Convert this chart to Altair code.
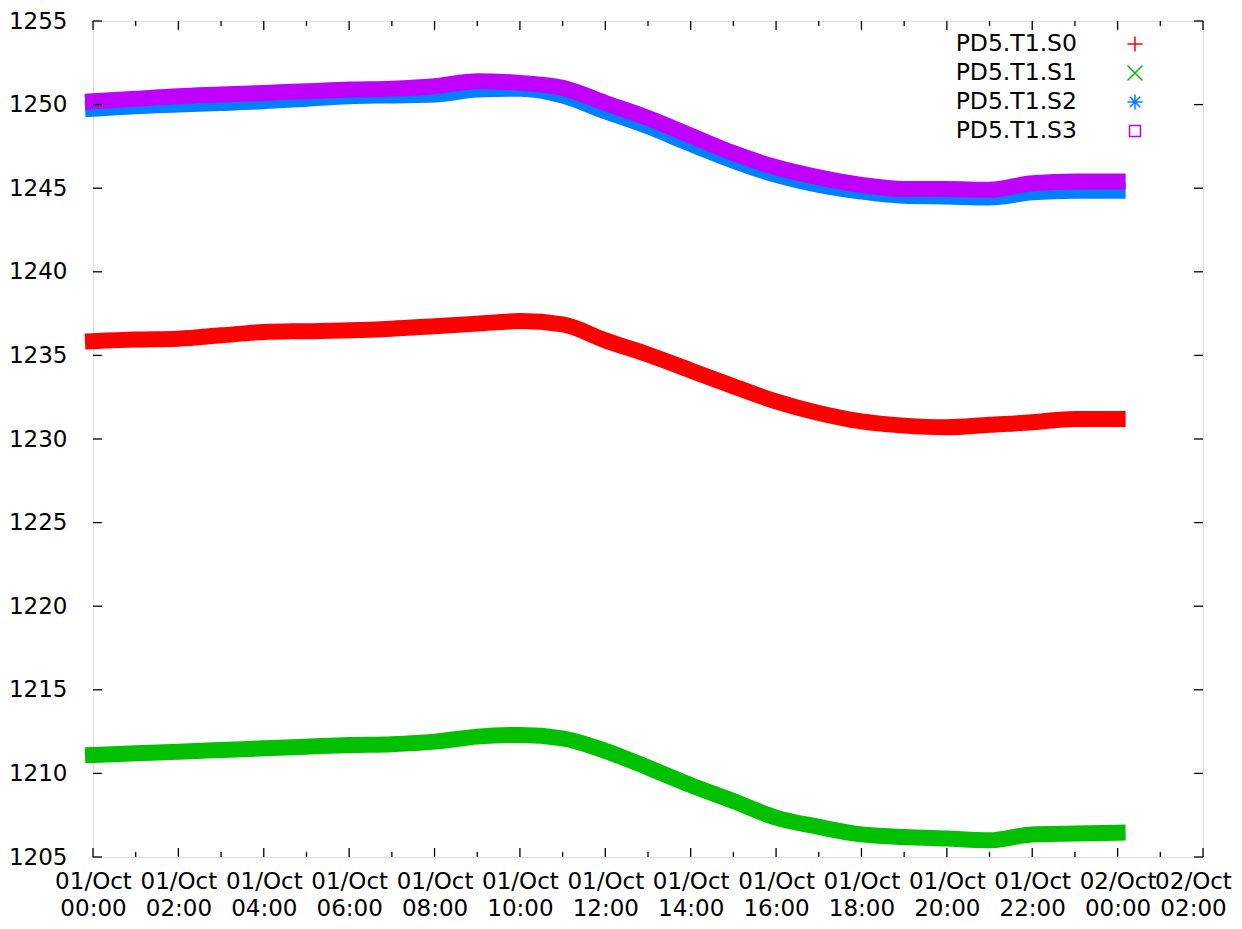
import altair as alt
import pandas as pd

# ---- data (hourly samples) ----
hours = list(range(0, 25))
s0 = [1235.85, 1235.95, 1236.0, 1236.2, 1236.4, 1236.45, 1236.5, 1236.6, 1236.75, 1236.9,
      1237.05, 1236.85, 1235.9, 1235.05, 1234.1, 1233.15, 1232.25, 1231.55, 1231.05, 1230.8,
      1230.7, 1230.85, 1231.0, 1231.2, 1231.2]
s1 = [1211.1, 1211.2, 1211.3, 1211.4, 1211.5, 1211.6, 1211.7, 1211.75, 1211.9, 1212.2,
      1212.3, 1212.1, 1211.35, 1210.35, 1209.3, 1208.35, 1207.35, 1206.8, 1206.35, 1206.2,
      1206.1, 1206.0, 1206.35, 1206.4, 1206.45]
s2 = [1249.75, 1249.9, 1250.0, 1250.1, 1250.2, 1250.35, 1250.5, 1250.55, 1250.6, 1250.9,
      1250.95, 1250.55, 1249.6, 1248.7, 1247.65, 1246.65, 1245.8, 1245.2, 1244.8, 1244.55,
      1244.5, 1244.45, 1244.75, 1244.85, 1244.85]
s3 = [1250.2, 1250.35, 1250.5, 1250.6, 1250.7, 1250.8, 1250.9, 1250.95, 1251.1, 1251.4,
      1251.3, 1251.0, 1250.1, 1249.2, 1248.15, 1247.1, 1246.25, 1245.65, 1245.2, 1244.95,
      1244.95, 1244.9, 1245.3, 1245.4, 1245.4]
series_names = ["PD5.T1.S0", "PD5.T1.S1", "PD5.T1.S2", "PD5.T1.S3"]
series_colors = ["#ff0000", "#00c000", "#0080ff", "#c000ff"]
series_shapes = [
    "M-1,0L1,0M0,-1L0,1",
    "M-1,-1L1,1M-1,1L1,-1",
    "M-1,0L1,0M0,-1L0,1M-0.7,-0.7L0.7,0.7M-0.7,0.7L0.7,-0.7",
    "M-0.73,-0.73L0.73,-0.73L0.73,0.73L-0.73,0.73Z",
]
x_tick_hours = list(range(0, 27))
y_tick_values = list(range(1205, 1256, 5))

W, H = 1110, 836
FONT = "DejaVu Sans"


def ts(h):
    day = 1 + h // 24
    return f"2023-10-{day:02d}T{h % 24:02d}:00:00Z"


rows = []
for i, (name, vals) in enumerate(zip(series_names, [s0, s1, s2, s3])):
    for h, v in zip(hours, vals):
        rows.append({"series": name, "time": ts(h), "value": v, "order": i})
df = pd.DataFrame(rows)
legend_df = pd.DataFrame({"series": series_names})

ticks_df = pd.DataFrame({"time": [ts(h) for h in x_tick_hours],
                         "major": [h % 2 == 0 for h in x_tick_hours]})
ymaj_df = pd.DataFrame({"value": y_tick_values})

x_scale = alt.Scale(type="utc",
                    domain=[alt.DateTime(year=2023, month=10, date=1, hours=0, utc=True),
                            alt.DateTime(year=2023, month=10, date=2, hours=2, utc=True)])
y_scale = alt.Scale(domain=[1205, 1255], nice=False, zero=False)
color_scale = alt.Scale(domain=series_names, range=series_colors)
shape_scale = alt.Scale(domain=series_names, range=series_shapes)

x_axis = alt.Axis(
    values=[alt.DateTime(year=2023, month=10, date=1 + h // 24, hours=h % 24, utc=True)
            for h in range(0, 27, 2)],
    labelExpr="[utcFormat(datum.value, '%d/%b'), utcFormat(datum.value, '%H:%M')]",
    ticks=False, domain=False, grid=False, title=None,
    labelPadding=13, labelLineHeight=27, labelFontSize=23, labelFont=FONT,
    labelColor="black", labelOverlap=False, labelFlush=False,
    labelOffset={"condition": {"test": "datum.index > 0.99", "value": -10}, "value": 0},
)
y_axis = alt.Axis(values=y_tick_values, format="d", ticks=False, domain=False, grid=False,
                  title=None, labelPadding=26, labelFontSize=23, labelFont=FONT,
                  labelColor="black")

lines = alt.Chart(df).mark_line(strokeWidth=16, strokeCap="square", interpolate="monotone").encode(
    x=alt.X("time:T", scale=x_scale, axis=x_axis),
    y=alt.Y("value:Q", scale=y_scale, axis=y_axis),
    color=alt.Color("series:N", scale=color_scale, legend=None),
    detail="series:N",
    order="order:Q",
)

# legend drawn as its own small layer (labels left of symbols, like gnuplot)
leg_y = alt.Y("series:N", scale=alt.Scale(domain=series_names, range=[23, 110], padding=0), axis=None)
leg_text = alt.Chart(legend_df).mark_text(align="right", baseline="middle", fontSize=23.5,
                                          font=FONT, color="black").encode(
    y=leg_y, x=alt.value(984), text="series:N")
leg_sym = alt.Chart(legend_df).mark_point(filled=False, size=225, strokeWidth=1.5, opacity=1).encode(
    y=leg_y, x=alt.value(1042),
    color=alt.Color("series:N", scale=color_scale, legend=None),
    shape=alt.Shape("series:N", scale=shape_scale, legend=None))
legend = alt.layer(leg_text, leg_sym)

tick_base = alt.Chart(ticks_df)
rule = dict(color="black", strokeWidth=1.3)
bot_major = tick_base.transform_filter("datum.major").mark_rule(**rule).encode(
    x="time:T", y=alt.value(H), y2=alt.value(H - 9))
bot_minor = tick_base.transform_filter("!datum.major").mark_rule(**rule).encode(
    x="time:T", y=alt.value(H), y2=alt.value(H - 5))
top_major = tick_base.transform_filter("datum.major").mark_rule(**rule).encode(
    x="time:T", y=alt.value(0), y2=alt.value(9))
top_minor = tick_base.transform_filter("!datum.major").mark_rule(**rule).encode(
    x="time:T", y=alt.value(0), y2=alt.value(5))
ybase = alt.Chart(ymaj_df)
left_t = ybase.mark_rule(**rule).encode(
    y=alt.Y("value:Q", scale=y_scale, axis=None), x=alt.value(0), x2=alt.value(9))
right_t = ybase.mark_rule(**rule).encode(
    y=alt.Y("value:Q", scale=y_scale, axis=None), x=alt.value(W), x2=alt.value(W - 9))

chart = alt.layer(
    lines, bot_major, bot_minor, top_major, top_minor, left_t, right_t, legend
).resolve_scale(y="independent").properties(
    width=W, height=H,
    autosize=alt.AutoSizeParams(type="none"),
    padding={"left": 85, "top": 13, "right": 31, "bottom": 64},
).configure_view(stroke="black", strokeWidth=1.5).configure(background="white")

chart.save("out.html", embed_options={"renderer": "svg", "actions": False})
